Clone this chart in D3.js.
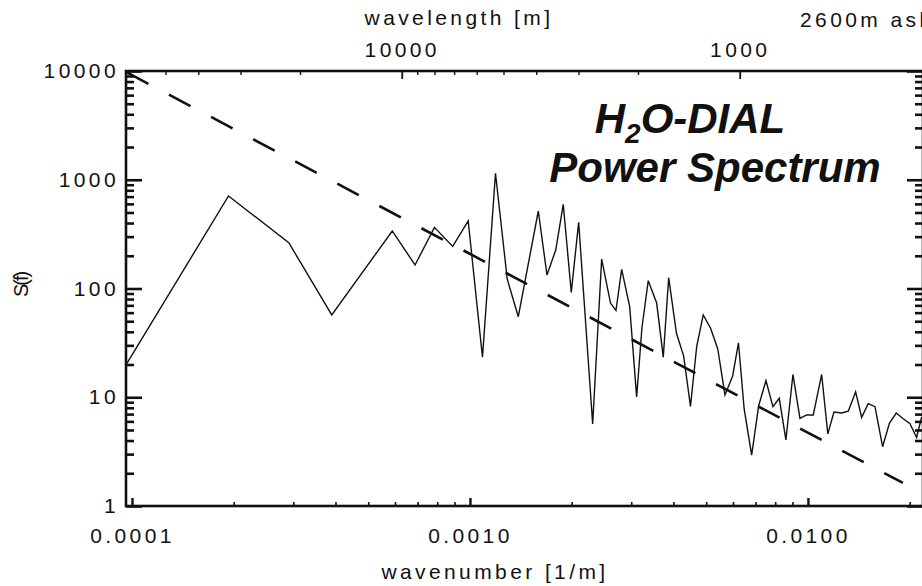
<!DOCTYPE html>
<html>
<head>
<meta charset="utf-8">
<script src="https://cdn.jsdelivr.net/npm/d3@7"></script>
<style>
	body { margin: 0; background: #fff; }
	svg text { font-family: "Liberation Sans", Arial, Helvetica, sans-serif; fill: #111; }
	.tick text { font-size: 21px; letter-spacing: 3.4px; }
</style>
</head>
<body>
<div id="chart"></div>
<script>
// spectrum values (wavenumber in 1/m, S(f))
const wavenumber = [
	0.0000966, 0.000193, 0.000291, 0.00039, 0.000589, 0.000688, 0.000785, 0.000889, 0.000988,
	0.001089, 0.00119, 0.001289, 0.00139, 0.001593, 0.00169, 0.001794, 0.001888, 0.001994,
	0.002097, 0.002307, 0.002453, 0.002605, 0.002704, 0.002811, 0.002969, 0.003113, 0.003227,
	0.003369, 0.003568, 0.003732, 0.003872, 0.004083, 0.004289, 0.004492, 0.004686, 0.0049,
	0.005153, 0.00541, 0.005682, 0.005988, 0.006229, 0.006476, 0.006815, 0.007152, 0.007511,
	0.007879, 0.008225, 0.008606, 0.009029, 0.00947, 0.00991, 0.01037, 0.01098, 0.01145,
	0.01194, 0.01258, 0.01316, 0.01384, 0.01442, 0.01508, 0.01579, 0.01663, 0.01742, 0.01825,
	0.01914, 0.02004, 0.02097, 0.0217,
];
const power = [
	20.5, 709, 264, 57.1, 338, 164.5, 365, 244, 418,
	23.3, 1147, 122, 55, 516, 133, 226, 595, 91.9,
	407, 5.68, 186.7, 73.5, 62.8, 150.2, 68, 10.05, 43.3,
	118, 73.5, 23.4, 125.7, 38.7, 23.9, 8.22, 29.2, 57.1,
	43.1, 27.8, 10.5, 15.7, 31.7, 7.8, 2.94, 8.4, 14.2,
	8.19, 9.78, 4.05, 16.2, 6.4, 6.87, 6.87, 16.2, 4.61,
	7.32, 7.16, 7.43, 11.2, 6.54, 8.73, 8.19, 3.51, 5.76, 7.16,
	6.34, 5.71, 4.27, 6.58,
];

// -5/3 fit line end points
const fit_k = [0.0000966, 0.0191];
const fit_s = [9700, 1.63];

// tick values
const y_major = [1, 10, 100, 1000, 10000];
const x_major = [0.0001, 0.001, 0.01];
const wl_major = [10000, 1000];
const wl_minor = [50000, 40000, 30000, 20000, 9000, 8000, 7000, 6000, 5000, 4000, 3000, 2000];

const width = 922,
	height = 586;
const plot = { left: 126, right: 923, top: 71, bottom: 506 };

const svg = d3
	.select("#chart")
	.append("svg")
	.attr("width", width)
	.attr("height", height)
	.style("background-color", "#fff");

const x = d3.scaleLog().domain([0.000096, 0.0219]).range([plot.left, plot.right]);
const y = d3.scaleLog().domain([1, 10000]).range([plot.bottom, plot.top]);
// wavelength = 2*pi / wavenumber
const x_wl = d3
	.scaleLog()
	.domain(x.domain().map((k) => (2 * Math.PI) / k))
	.range(x.range());

const is_decade = (v) => Math.abs(Math.log10(v) - Math.round(Math.log10(v))) < 1e-9;
const y_minor = y.ticks().filter((v) => !is_decade(v));
const x_minor = x.ticks().filter((v) => !is_decade(v));

// clip for the data
svg.append("clipPath")
	.attr("id", "clip")
	.append("rect")
	.attr("x", plot.left)
	.attr("y", plot.top)
	.attr("width", plot.right - plot.left)
	.attr("height", plot.bottom - plot.top);

function style_axis(g, sw) {
	g.attr("font-family", null).attr("font-size", null);
	g.select(".domain").remove();
	g.selectAll(".tick line").attr("stroke", "#111").attr("stroke-width", sw);
}

// left axis
svg.append("g")
	.attr("transform", `translate(${plot.left},0)`)
	.call(d3.axisLeft(y).tickValues(y_major).tickSizeInner(-16).tickSizeOuter(0).tickPadding(7).tickFormat(d3.format("d")))
	.call((g) => style_axis(g, 2.6));
svg.append("g")
	.attr("transform", `translate(${plot.left},0)`)
	.call(d3.axisLeft(y).tickValues(y_minor).tickSize(-8).tickFormat(""))
	.call((g) => style_axis(g, 2.6));

// right axis
svg.append("g")
	.attr("transform", `translate(${plot.right},0)`)
	.call(d3.axisRight(y).tickValues(y_major).tickSize(-16).tickFormat(""))
	.call((g) => style_axis(g, 2.6));
svg.append("g")
	.attr("transform", `translate(${plot.right},0)`)
	.call(d3.axisRight(y).tickValues(y_minor).tickSize(-8).tickFormat(""))
	.call((g) => style_axis(g, 2.6));

// bottom axis
svg.append("g")
	.attr("transform", `translate(0,${plot.bottom})`)
	.call(d3.axisBottom(x).tickValues(x_major).tickSizeInner(-8).tickSizeOuter(0).tickPadding(22).tickFormat(d3.format(".4f")))
	.call((g) => style_axis(g, 2.4));
svg.append("g")
	.attr("transform", `translate(0,${plot.bottom})`)
	.call(d3.axisBottom(x).tickValues(x_minor).tickSize(-4).tickFormat(""))
	.call((g) => style_axis(g, 1.6));

// top axis (wavelength)
svg.append("g")
	.attr("transform", `translate(0,${plot.top})`)
	.call(d3.axisTop(x_wl).tickValues(wl_major).tickSizeInner(-8).tickSizeOuter(0).tickPadding(14).tickFormat(d3.format("d")))
	.call((g) => style_axis(g, 1.8));
svg.append("g")
	.attr("transform", `translate(0,${plot.top})`)
	.call(d3.axisTop(x_wl).tickValues(wl_minor).tickSize(-4).tickFormat(""))
	.call((g) => style_axis(g, 1.4));

// frame
svg.append("rect")
	.attr("x", plot.left)
	.attr("y", plot.top)
	.attr("width", plot.right - plot.left)
	.attr("height", plot.bottom - plot.top)
	.attr("fill", "none")
	.attr("stroke", "#111")
	.attr("stroke-width", 2.6);

// fit line
svg.append("path")
	.datum(d3.zip(fit_k, fit_s))
	.attr("clip-path", "url(#clip)")
	.attr("fill", "none")
	.attr("stroke", "#111")
	.attr("stroke-width", 2.6)
	.attr("stroke-dasharray", "24.3,23.3")
	.attr("d", d3.line().x((d) => x(d[0])).y((d) => y(d[1])));

// spectrum
svg.append("path")
	.datum(d3.zip(wavenumber, power))
	.attr("clip-path", "url(#clip)")
	.attr("fill", "none")
	.attr("stroke", "#111")
	.attr("stroke-width", 1.4)
	.attr("stroke-linejoin", "miter")
	.attr("d", d3.line().x((d) => x(d[0])).y((d) => y(d[1])));

// axis titles
svg.append("text")
	.attr("x", 495)
	.attr("y", 579)
	.attr("text-anchor", "middle")
	.style("font-size", "21px")
	.style("letter-spacing", "3.4px")
	.text("wavenumber [1/m]");

svg.append("text")
	.attr("x", 459)
	.attr("y", 25)
	.attr("text-anchor", "middle")
	.style("font-size", "21px")
	.style("letter-spacing", "3.4px")
	.text("wavelength [m]");

svg.append("text")
	.attr("x", 800)
	.attr("y", 26.5)
	.style("font-size", "21px")
	.style("letter-spacing", "3.4px")
	.text("2600m asl");

svg.append("text")
	.attr("transform", "translate(28,285) rotate(-90)")
	.attr("text-anchor", "middle")
	.style("font-size", "20px")
	.style("letter-spacing", "-2px")
	.text("S(f)");

// title
const t1 = svg.append("text")
	.attr("x", 690)
	.attr("y", 133)
	.attr("text-anchor", "middle")
	.style("font-size", "42px")
	.style("font-style", "italic")
	.style("font-weight", "bold");
t1.append("tspan").text("H");
t1.append("tspan").attr("dy", 10).style("font-size", "28px").text("2");
t1.append("tspan").attr("dy", -10).text("O-DIAL");

svg.append("text")
	.attr("x", 715)
	.attr("y", 182)
	.attr("text-anchor", "middle")
	.style("font-size", "42px")
	.style("font-style", "italic")
	.style("font-weight", "bold")
	.text("Power Spectrum");
</script>
</body>
</html>
